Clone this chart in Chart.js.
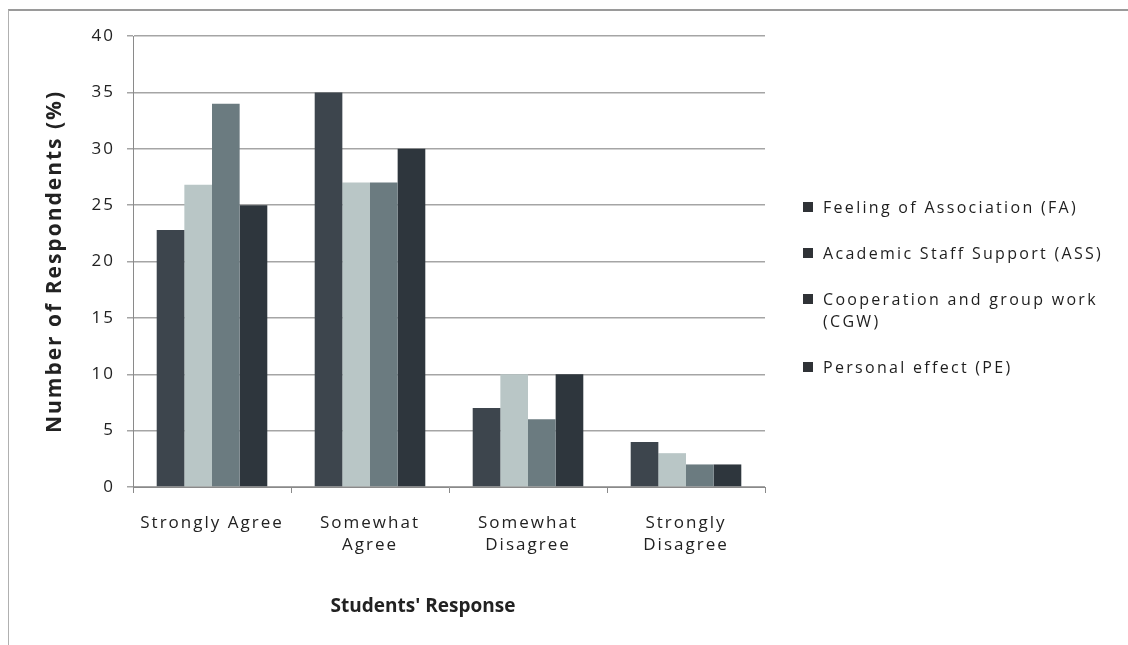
<!DOCTYPE html>
<html>
<head>
<meta charset="utf-8">
<script src="https://cdn.jsdelivr.net/npm/chart.js@4.4.0/dist/chart.umd.min.js"></script>
<style>
  body { margin: 0; background: #fff; }
  #wrap { position: relative; width: 1128px; height: 645px; overflow: hidden; }
  #frame { position: absolute; left: 8px; top: 9px; width: 1200px; height: 700px; border-top: 2px solid #9a9a9a; border-left: 1px solid #b0b0b0; }
  #legend { position: absolute; left: 803px; top: 196px; width: 320px; font-family: "Open Sans", sans-serif; font-size: 16px; color: #1e1e1e; letter-spacing: 2.3px; }
  .item { display: flex; line-height: 22px; margin-bottom: 24px; }
  .box { flex: none; width: 10px; height: 10px; background: #2f3236; margin: 6px 10px 0 0; }
  #xtitle { position: absolute; left: 323px; width: 200px; top: 591px; text-align: center; font-family: "Open Sans", sans-serif; font-weight: bold; font-size: 19px; line-height: 28px; color: #222; }
</style>
</head>
<body>
<div id="wrap">
  <div id="frame"></div>
  <canvas id="chart" width="1128" height="645"></canvas>
  <div id="legend"></div>
  <div id="xtitle">Students' Response</div>
</div>
<script>
// Data
const categories = [['Strongly Agree'], ['Somewhat', 'Agree'], ['Somewhat', 'Disagree'], ['Strongly', 'Disagree']];
const seriesNames = ['Feeling of Association (FA)', 'Academic Staff Support (ASS)', 'Cooperation and group work (CGW)', 'Personal effect (PE)'];
const faValues = [22.8, 35, 7, 4];
const assValues = [26.8, 27, 10, 3];
const cgwValues = [34, 27, 6, 2];
const peValues = [25, 30, 10, 2];
const yTicks = [0, 5, 10, 15, 20, 25, 30, 35, 40];

const colors = ['#3d454d', '#b9c6c6', '#6b7b80', '#2e363d'];
const allValues = [faValues, assValues, cgwValues, peValues];

const font = { family: '"Open Sans", sans-serif', size: 17, lineHeight: 1.3 };

// scanned text looks widely spaced; canvas state is reset on resize so set it on every pass
const spacing = {
  id: 'spacing',
  beforeUpdate: (c) => { c.ctx.letterSpacing = '2px'; },
  beforeLayout: (c) => { c.ctx.letterSpacing = '2px'; },
  beforeDraw: (c) => { c.ctx.letterSpacing = '2px'; }
};

const ctx = document.getElementById('chart').getContext('2d');
new Chart(ctx, {
  type: 'bar',
  data: {
    labels: categories,
    datasets: allValues.map((vals, i) => ({
      label: seriesNames[i],
      data: vals,
      backgroundColor: colors[i],
      borderWidth: 0,
      categoryPercentage: 0.7,
      barPercentage: 1.0
    }))
  },
  options: {
    responsive: false,
    animation: false,
    layout: { padding: { left: 42, top: 36, right: 363, bottom: 20 } },
    plugins: { legend: { display: false }, tooltip: { enabled: false } },
    scales: {
      x: {
        grid: { offset: true, drawOnChartArea: false, tickLength: 6, color: '#8a8a8a' },
        border: { color: '#8a8a8a' },
        ticks: { font: font, color: '#222', padding: 19, maxRotation: 0 },
        afterFit: (s) => { s.height = 138; }
      },
      y: {
        min: 0, max: 40,
        afterBuildTicks: (s) => { s.ticks = yTicks.map(v => ({ value: v })); },
        grid: { color: '#a5a5a5', tickLength: 6, lineWidth: 1.5 },
        border: { color: '#8a8a8a' },
        ticks: { font: font, color: '#222', padding: 12 },
        title: { display: true, text: 'Number of Respondents (%)', font: { family: font.family, size: 21, weight: 'bold' }, color: '#222', padding: { top: 0 } },
        afterFit: (s) => { s.width = 91; }
      }
    }
  },
  plugins: [spacing]
});

// legend
const legend = document.getElementById('legend');
seriesNames.forEach(name => {
  legend.innerHTML += `<div class="item"><div class="box"></div><div>${name}</div></div>`;
});
</script>
</body>
</html>
